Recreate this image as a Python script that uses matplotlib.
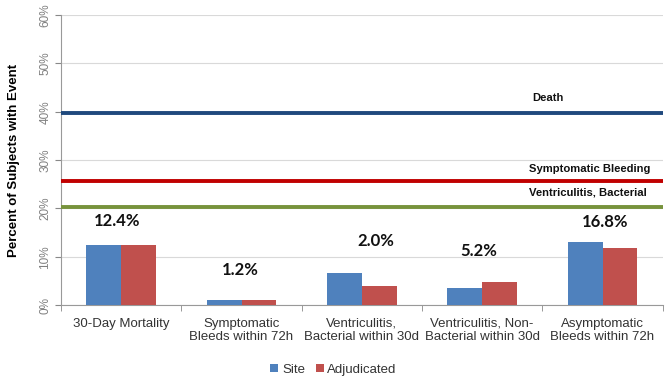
import matplotlib
matplotlib.use("Agg")
import matplotlib.pyplot as plt
import numpy as np

plt.rcParams['font.family'] = ['Liberation Sans', 'DejaVu Sans']

categories = ["30-Day Mortality", "Symptomatic\nBleeds within 72h", "Ventriculitis,\nBacterial within 30d",
              "Ventriculitis, Non-\nBacterial within 30d", "Asymptomatic\nBleeds within 72h"]
site = [12.4, 1.1, 6.7, 3.6, 13.1]
adjudicated = [12.4, 1.1, 3.9, 4.8, 11.8]
annot_labels = ["12.4%", "1.2%", "2.0%", "5.2%", "16.8%"]
annot_y = [17.4, 7.3, 13.3, 11.2, 17.2]
annot_x_off = [-0.03, -0.01, 0.12, -0.03, 0.02]
ref_names = ["Death", "Symptomatic Bleeding", "Ventriculitis, Bacterial"]
ref_values = [39.8, 25.6, 20.3]
ref_colors = ["#1F497D", "#C00000", "#77933C"]
ref_label_y = [42.8, 28.2, 23.2]
ref_label_x = [3.55, 3.89, 3.88]

fig = plt.figure(figsize=(6.67, 3.8), dpi=100)
ax = fig.add_axes([0.0915, 0.197, 0.902, 0.7635])

x = np.arange(len(categories))
w = 0.29
ax.bar(x - w / 2, site, w, color="#4F81BD", label="Site", zorder=3)
ax.bar(x + w / 2, adjudicated, w, color="#C0504D", label="Adjudicated", zorder=3)

for v, c in zip(ref_values, ref_colors):
    ax.axhline(v, color=c, lw=2.8, zorder=4)
for n, yy, xx in zip(ref_names, ref_label_y, ref_label_x):
    ax.text(xx, yy, n, ha="center", va="center", fontsize=8.1, fontweight="bold",
            family=["Liberation Sans Narrow", "Liberation Sans", "DejaVu Sans"], color="#111111")

for i, (t, yy, dx) in enumerate(zip(annot_labels, annot_y, annot_x_off)):
    ax.text(i + dx, yy, t, ha="center", va="center", fontsize=12, fontweight="bold",
            family=["Lato", "DejaVu Sans"], color="#111111")

ax.set_xlim(-0.5, len(categories) - 0.5)
ax.set_ylim(0, 60)
ax.set_yticks(np.arange(0, 61, 10))
ax.set_yticklabels([f"{v}%" for v in range(0, 61, 10)], rotation=90, va="center",
                   fontsize=8.5, color="#808080")
ax.yaxis.grid(True, color="#D9D9D9", lw=0.8, zorder=0)
ax.set_axisbelow(True)

ax.set_xticks(x)
ax.set_xticklabels(categories, fontsize=9.5, color="#333333", linespacing=1.2)
ax.tick_params(axis="x", length=0, pad=9)
ax.set_xticks(np.arange(-0.5, len(categories), 1), minor=True)
ax.tick_params(axis="x", which="minor", length=4, color="#888888")
ax.tick_params(axis="y", length=4, color="#888888", pad=3)

for s in ["top", "right"]:
    ax.spines[s].set_visible(False)
for s in ["left", "bottom"]:
    ax.spines[s].set_color("#999999")

ax.set_ylabel("Percent of Subjects with Event", fontsize=9.5, fontweight="bold", labelpad=14)

leg = fig.legend(loc="center", bbox_to_anchor=(0.5, 0.027), ncol=2, frameon=False,
                 fontsize=9.5, handlelength=0.6, handleheight=0.6, handletextpad=0.3,
                 columnspacing=0.8)
for t in leg.get_texts():
    t.set_color("#333333")

fig.savefig("out.png", dpi=100)
